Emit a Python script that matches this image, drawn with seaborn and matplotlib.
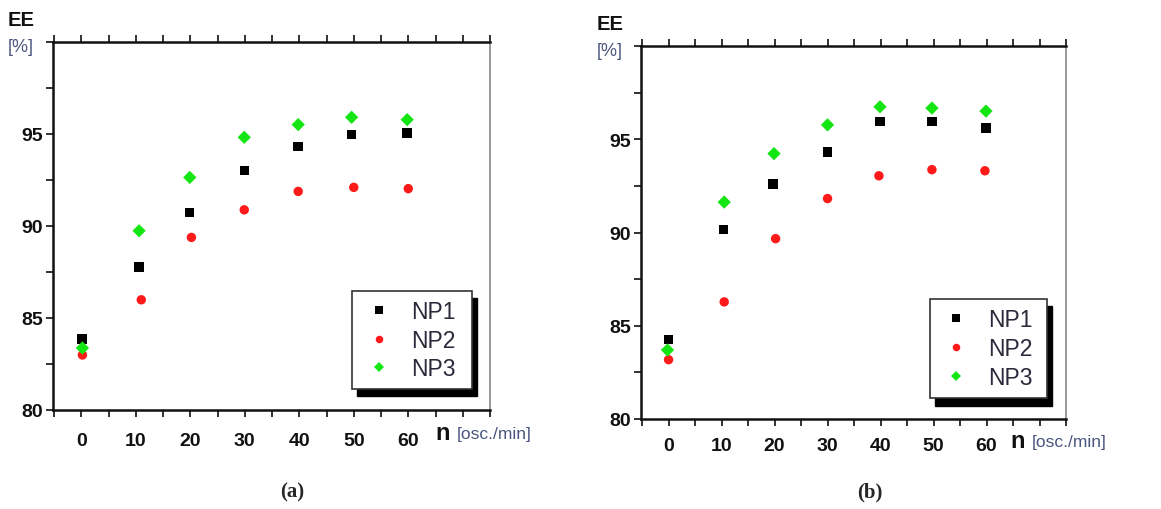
import matplotlib

matplotlib.use("Agg")
import matplotlib.pyplot as plt
from matplotlib.patches import Rectangle
from matplotlib.ticker import MultipleLocator
import pandas as pd
import seaborn as sns

SERIES = ["NP1", "NP2", "NP3"]

# panel (a)
A_NP1_X = [0.1, 10.6, 19.9, 29.9, 39.8, 49.6, 59.8]
A_NP1_Y = [83.85, 87.78, 90.72, 93.02, 94.31, 94.98, 95.06]
A_NP2_X = [0.2, 11.0, 20.2, 29.9, 39.8, 50.0, 60.0]
A_NP2_Y = [82.99, 85.99, 89.38, 90.88, 91.88, 92.10, 92.03]
A_NP3_X = [0.2, 10.6, 19.9, 29.9, 39.8, 49.6, 59.8]
A_NP3_Y = [83.37, 89.74, 92.64, 94.82, 95.51, 95.91, 95.78]

# panel (b)
B_NP1_X = [0.0, 10.4, 19.7, 30.0, 39.9, 49.7, 59.9]
B_NP1_Y = [84.27, 90.17, 92.61, 94.32, 95.95, 95.95, 95.61]
B_NP2_X = [0.0, 10.5, 20.2, 30.0, 39.7, 49.7, 59.7]
B_NP2_Y = [83.18, 86.28, 89.67, 91.82, 93.04, 93.37, 93.31]
B_NP3_X = [-0.2, 10.5, 19.9, 30.0, 39.9, 49.7, 59.9]
B_NP3_Y = [83.70, 91.63, 94.23, 95.77, 96.74, 96.67, 96.51]

X_TICKS = [0, 10, 20, 30, 40, 50, 60, 70]
X_TICK_LABELS = ["0", "10", "20", "30", "40", "50", "60", ""]
Y_TICKS = [80, 85, 90, 95]

PALETTE = {"NP1": "#000000", "NP2": "#ff1a1a", "NP3": "#14e614"}
MARKERS = {"NP1": "s", "NP2": "o", "NP3": "D"}

W, H = 1161, 510
SANS = ["Liberation Sans", "DejaVu Sans"]
SERIF = ["Liberation Serif", "DejaVu Serif"]
UNIT_COLOR = "#4b5680"


def frame(df_parts):
    rows = []
    for name, xs, ys in df_parts:
        for x, y in zip(xs, ys):
            rows.append({"n": x, "EE": y, "series": name})
    return pd.DataFrame(rows)


def px_axes(fig, left, top, right, bottom):
    return fig.add_axes([left / W, 1 - bottom / H, (right - left) / W, (bottom - top) / H])


def draw_panel(ax, df, box, xpad):
    sns.scatterplot(
        data=df, x="n", y="EE", hue="series", style="series",
        hue_order=SERIES, style_order=SERIES,
        palette=PALETTE, markers=MARKERS, s=46, linewidth=0,
        ax=ax, zorder=3,
    )
    ax.set_xlim(-5.2, 75)
    ax.set_ylim(80, 100)
    ax.set_xticks(X_TICKS)
    ax.set_xticklabels(X_TICK_LABELS)
    ax.xaxis.set_minor_locator(MultipleLocator(5))
    ax.set_yticks(Y_TICKS)
    ax.yaxis.set_minor_locator(MultipleLocator(2.5))
    ax.set_xlabel("")
    ax.set_ylabel("")
    ax.tick_params(axis="x", which="both", bottom=True, top=True, direction="out",
                   length=5, width=1.3, color="#222222", pad=xpad)
    ax.tick_params(axis="y", which="both", left=True, right=False, direction="out",
                   length=5, width=1.3, color="#222222", pad=2)
    for lab in ax.get_xticklabels() + ax.get_yticklabels():
        lab.set_family(SANS)
        lab.set_fontweight("bold")
        lab.set_fontsize(14)
        lab.set_color("#111111")
    for side in ["left", "bottom", "top"]:
        ax.spines[side].set_color("#111111")
        ax.spines[side].set_linewidth(1.8)
    ax.spines["right"].set_color("#888888")
    ax.spines["right"].set_linewidth(1.2)
    ax.grid(False)

    handles, labels = ax.get_legend_handles_labels()
    ax.get_legend().remove()
    x0, y0, x1, y1 = box
    ax.add_patch(Rectangle((x0 + 0.011, y0 - 0.02), x1 - x0, y1 - y0, transform=ax.transAxes,
                           facecolor="black", edgecolor="black", clip_on=False, zorder=6))
    ax.add_patch(Rectangle((x0, y0), x1 - x0, y1 - y0, transform=ax.transAxes,
                           facecolor="white", edgecolor="#333333", linewidth=1.2,
                           clip_on=False, zorder=7))
    leg = ax.legend(handles, labels, loc="center",
                    bbox_to_anchor=(x0, y0, x1 - x0, y1 - y0), bbox_transform=ax.transAxes,
                    frameon=False, prop={"family": SANS, "size": 16.5},
                    handletextpad=0.9, labelspacing=0.25, handlelength=1.0, markerscale=0.8)
    leg.set_zorder(8)
    for t in leg.get_texts():
        t.set_color("#2a2a3a")


def main():
    sns.set_theme(style="white")
    plt.rcParams["font.family"] = SANS
    fig = plt.figure(figsize=(W / 100, H / 100), dpi=100)

    df_a = frame([("NP1", A_NP1_X, A_NP1_Y), ("NP2", A_NP2_X, A_NP2_Y), ("NP3", A_NP3_X, A_NP3_Y)])
    df_b = frame([("NP1", B_NP1_X, B_NP1_Y), ("NP2", B_NP2_X, B_NP2_Y), ("NP3", B_NP3_X, B_NP3_Y)])

    ax_a = px_axes(fig, 53, 43, 490, 411)
    ax_b = px_axes(fig, 641, 47, 1066, 420)
    draw_panel(ax_a, df_a, (0.684, 0.057, 0.959, 0.323), 11)
    draw_panel(ax_b, df_b, (0.680, 0.056, 0.955, 0.322), 8)

    def ftext(x, y, s, ha="center", **kw):
        fig.text(x / W, 1 - y / H, s, ha=ha, va="center", **kw)

    # axis titles drawn as free text, like the original figure
    for ee_x, ee_y, pc_y, n_x, n_y, unit_x in [(21, 20, 47, 443, 435, 457), (610, 25, 52, 1018, 443, 1032)]:
        ftext(ee_x, ee_y, "EE", family=SANS, fontweight="bold", fontsize=14.5, color="#111111")
        ftext(ee_x, pc_y, "[%]", family=SANS, fontsize=13, color=UNIT_COLOR)
        ftext(n_x, n_y - 1, "n", family=SANS, fontweight="bold", fontsize=17, color="#111111")
        ftext(unit_x, n_y, "[osc./min]", ha="left", family=SANS, fontsize=12.5, color=UNIT_COLOR)

    ftext(292, 492, "(a)", family=SERIF, fontweight="bold", fontsize=15)
    ftext(870, 492, "(b)", family=SERIF, fontweight="bold", fontsize=15)

    fig.savefig("out.png", dpi=100, facecolor="white")
    plt.close(fig)


if __name__ == "__main__":
    main()
